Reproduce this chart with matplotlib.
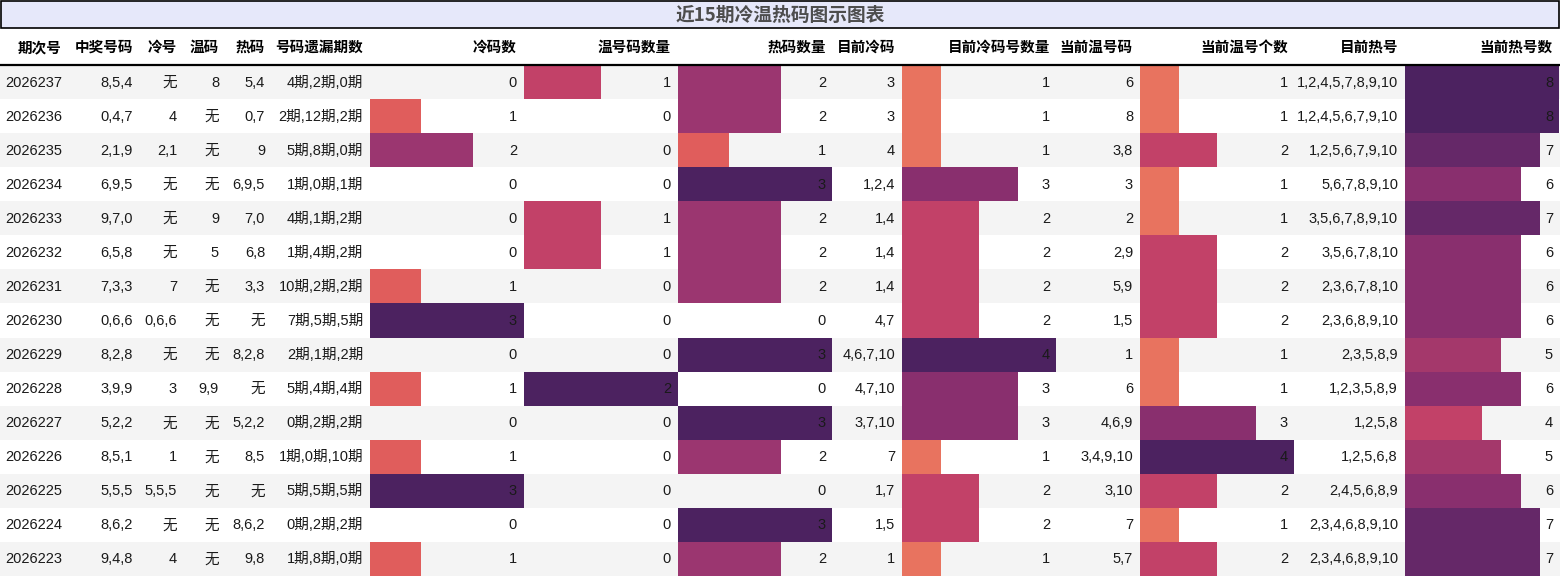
import numpy as np
import matplotlib
matplotlib.use("Agg")
import matplotlib.pyplot as plt
from matplotlib.colors import LinearSegmentedColormap
from matplotlib.patches import Rectangle

plt.rcParams['font.family'] = ['Liberation Sans', 'Noto Sans CJK SC', 'DejaVu Sans']

title = "近15期冷温热码图示图表"
headers = ["期次号", "中奖号码", "冷号", "温码", "热码", "号码遗漏期数", "冷码数", "温号码数量",
           "热码数量", "目前冷码", "目前冷码号数量", "当前温号码", "当前温号个数", "目前热号", "当前热号数"]

issue = ["2026237", "2026236", "2026235", "2026234", "2026233", "2026232", "2026231", "2026230",
         "2026229", "2026228", "2026227", "2026226", "2026225", "2026224", "2026223"]
winning = ["8,5,4", "0,4,7", "2,1,9", "6,9,5", "9,7,0", "6,5,8", "7,3,3", "0,6,6",
           "8,2,8", "3,9,9", "5,2,2", "8,5,1", "5,5,5", "8,6,2", "9,4,8"]
cold = ["无", "4", "2,1", "无", "无", "无", "7", "0,6,6", "无", "3", "无", "1", "5,5,5", "无", "4"]
warm = ["8", "无", "无", "无", "9", "5", "无", "无", "无", "9,9", "无", "无", "无", "无", "无"]
hot = ["5,4", "0,7", "9", "6,9,5", "7,0", "6,8", "3,3", "无", "8,2,8", "无", "5,2,2", "8,5", "无", "8,6,2", "9,8"]
missing = ["4期,2期,0期", "2期,12期,2期", "5期,8期,0期", "1期,0期,1期", "4期,1期,2期", "1期,4期,2期",
           "10期,2期,2期", "7期,5期,5期", "2期,1期,2期", "5期,4期,4期", "0期,2期,2期", "1期,0期,10期",
           "5期,5期,5期", "0期,2期,2期", "1期,8期,0期"]
cold_count = [0, 1, 2, 0, 0, 0, 1, 3, 0, 1, 0, 1, 3, 0, 1]
warm_count = [1, 0, 0, 0, 1, 1, 0, 0, 0, 2, 0, 0, 0, 0, 0]
hot_count = [2, 2, 1, 3, 2, 2, 2, 0, 3, 0, 3, 2, 0, 3, 2]
cur_cold = ["3", "3", "4", "1,2,4", "1,4", "1,4", "1,4", "4,7", "4,6,7,10", "4,7,10", "3,7,10",
            "7", "1,7", "1,5", "1"]
cur_cold_count = [1, 1, 1, 3, 2, 2, 2, 2, 4, 3, 3, 1, 2, 2, 1]
cur_warm = ["6", "8", "3,8", "3", "2", "2,9", "5,9", "1,5", "1", "6", "4,6,9", "3,4,9,10", "3,10", "7", "5,7"]
cur_warm_count = [1, 1, 2, 1, 1, 2, 2, 2, 1, 1, 3, 4, 2, 1, 2]
cur_hot = ["1,2,4,5,7,8,9,10", "1,2,4,5,6,7,9,10", "1,2,5,6,7,9,10", "5,6,7,8,9,10",
           "3,5,6,7,8,9,10", "3,5,6,7,8,10", "2,3,6,7,8,10", "2,3,6,8,9,10", "2,3,5,8,9",
           "1,2,3,5,8,9", "1,2,5,8", "1,2,5,6,8", "2,4,5,6,8,9", "2,3,4,6,8,9,10", "2,3,4,6,8,9,10"]
cur_hot_count = [8, 8, 7, 6, 7, 6, 6, 6, 5, 6, 4, 5, 6, 7, 7]

columns = [issue, winning, cold, warm, hot, missing, cold_count, warm_count, hot_count,
           cur_cold, cur_cold_count, cur_warm, cur_warm_count, cur_hot, cur_hot_count]

# layout (pixels)
W, H = 1560, 576
right_edges = [62, 133, 177, 219, 265, 363, 517, 671, 826, 895, 1050, 1133, 1288, 1398, 1553]
bar_cols = {6: 370, 7: 524, 8: 678, 10: 902, 12: 1140, 14: 1405}
bar_w = 154

cmap = LinearSegmentedColormap.from_list("heat", [
    (0.0, "#F2A47F"), (0.25, "#E8735F"), (0.333, "#E05D5C"), (0.5, "#C24168"),
    (0.625, "#A5386B"), (0.667, "#9B3670"), (0.75, "#8A2F6E"), (0.875, "#662868"),
    (1.0, "#4C2260")])

fig = plt.figure(figsize=(W / 100, H / 100), dpi=100)
ax = fig.add_axes([0, 0, 1, 1])
ax.set_xlim(0, W)
ax.set_ylim(H, 0)
ax.axis("off")

# title bar
ax.add_patch(Rectangle((1, 1), W - 2, 27, facecolor="#E6E8FA", edgecolor="black", lw=1.2, zorder=1))
ax.text(W / 2, 15, title, ha="center", va="center", fontsize=13.5, fontweight="bold",
        color="#4D4D4D", family=["Noto Sans CJK SC", "DejaVu Sans"], zorder=3)

# header
for j, h in enumerate(headers):
    ax.text(right_edges[j], 47, h, ha="right", va="center", fontsize=10.5, fontweight="bold",
            color="black", family=["Noto Sans CJK SC", "DejaVu Sans"], zorder=3)
ax.plot([0, W], [64.5, 64.5], color="black", lw=1.6, zorder=4)

n = len(issue)
y_edges = np.linspace(65, 576, n + 1)
row_h = y_edges[1] - y_edges[0]
centers = (y_edges[:-1] + y_edges[1:]) / 2

for i in range(n):
    if i % 2 == 0:
        ax.add_patch(Rectangle((0, y_edges[i]), W, row_h, facecolor="#F4F4F4", edgecolor="none", zorder=0))

for j, x0 in bar_cols.items():
    vals = np.array(columns[j], dtype=float)
    vmax = vals.max()
    ax.barh(centers, vals / vmax * bar_w, left=x0, height=row_h, color=cmap(vals / vmax),
            edgecolor="none", zorder=2)

for j, col in enumerate(columns):
    for i, v in enumerate(col):
        ax.text(right_edges[j], centers[i] + 0.5, str(v), ha="right", va="center", fontsize=10.5,
                color="#1a1a1a", zorder=3)

fig.savefig("out.png", dpi=100)
